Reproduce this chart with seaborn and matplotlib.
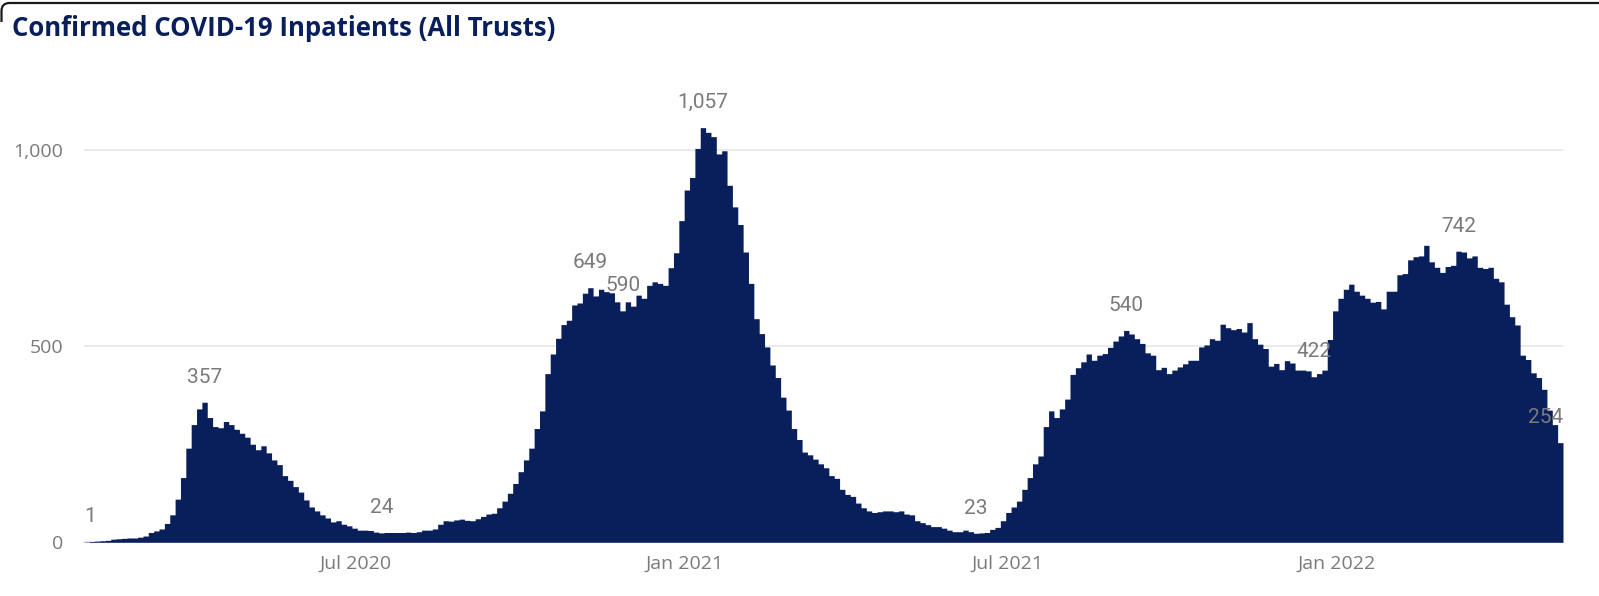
import numpy as np
import pandas as pd
import matplotlib
matplotlib.use("Agg")
import matplotlib.pyplot as plt
import matplotlib.dates as mdates
from matplotlib.patches import PathPatch
from matplotlib.path import Path
import seaborn as sns

# inpatients, one value per 3-day bin (starting 31 Jan 2020)
inpatients = [
    1, 2, 3, 4, 5, 8, 9, 10, 11, 11, 13, 16, 25, 29, 34, 48, 70, 110, 165, 240,
    300, 340, 357, 318, 295, 292, 308, 300, 288, 278, 268, 250, 236, 246, 228, 210, 198, 170, 158, 142,
    128, 108, 90, 80, 70, 62, 52, 55,
    46, 42, 36, 31, 31, 30, 26, 24, 25, 25, 25, 25, 26, 25, 27, 31, 31, 34, 46, 55,
    54, 57, 59, 56, 55, 60, 66, 72, 74, 88, 105, 125, 150, 180, 210, 240, 290, 335, 430, 480,
    520, 555, 566, 605, 610, 635,
    649, 628, 645, 639, 636, 613, 590, 613, 602, 630, 622, 655, 664, 660, 655, 700, 738, 820, 898, 930,
    1004, 1057, 1045, 1034, 990, 998, 910, 855, 810, 740, 660, 570, 532, 498, 452, 420, 370, 337, 290, 262,
    230, 223, 212, 200, 190, 170,
    163, 135, 122, 117, 100, 88, 80, 76, 78, 80, 80, 78, 80, 72, 70, 55, 50, 45, 40, 40,
    36, 31, 27, 27, 31, 27, 23, 24, 25, 33, 38, 55, 76, 90, 105, 135, 165, 200, 220, 295,
    335, 318, 340, 365, 428, 445, 460, 480,
    464, 477, 481, 497, 513, 526, 540, 531, 519, 507, 483, 477, 440, 446, 430, 439, 447, 455, 464, 464,
    498, 503, 519, 515, 556, 547, 542, 545, 536, 560, 519, 505, 494, 449, 456, 440, 463, 457, 439, 439,
    437, 422, 430, 439, 517, 590,
    622, 645, 658, 640, 630, 622, 612, 614, 595, 640, 640, 682, 685, 720, 728, 730, 757, 715, 701, 688,
    703, 706, 742, 740, 725, 730, 701, 698, 701, 673, 664, 607, 575, 554, 477, 466, 432, 420, 390, 337,
    300, 254,
]
dates = pd.date_range("2020-01-31", periods=len(inpatients), freq="3D")
labelled = [0, 22, 55, 94, 100, 115, 166, 194, 229, 256, 275]

tick_dates = ["2020-07-01", "2021-01-01", "2021-07-01", "2022-01-01"]
tick_labels = ["Jul 2020", "Jan 2021", "Jul 2021", "Jan 2022"]
y_ticks = [0, 500, 1000]

navy = "#081F5C"
grey = "#7A7A7A"

df = pd.DataFrame({"date": dates, "patients": inpatients})

sns.set_theme(style="white")
plt.rcParams["font.family"] = ["Open Sans", "DejaVu Sans"]

W, H = 1599, 596
fig = plt.figure(figsize=(W / 100, H / 100), dpi=100)
x0, x1 = 84, 1563
y0, ppu = 542.3, 0.3923
ymax = 1150
ax = fig.add_axes([x0 / W, (H - y0) / H, (x1 - x0) / W, ymax * ppu / H])

edges = mdates.date2num(dates)
edges = np.append(edges, edges[-1] + 3)
sns.histplot(data=df, x="date", weights="patients", bins=list(edges), element="step",
             fill=True, color=navy, alpha=1, linewidth=0, ax=ax, zorder=3)

ax.set_xlim(edges[0], edges[-1])
ax.set_ylim(0, ymax)
ax.set_xlabel("")
ax.set_ylabel("")
ax.set_xticks(mdates.date2num(pd.to_datetime(tick_dates)))
ax.set_xticklabels(tick_labels)
ax.set_yticks(y_ticks)
ax.set_yticklabels([f"{v:,}" for v in y_ticks])
ax.tick_params(axis="both", length=0, labelsize=14, colors=grey)
ax.tick_params(axis="x", pad=9)
ax.tick_params(axis="y", pad=15)
ax.grid(axis="y", color="#E6E6E6", linewidth=1.2, zorder=0)
ax.set_axisbelow(True)
for s in ax.spines.values():
    s.set_visible(False)

# data labels
for i in labelled:
    v = inpatients[i]
    if i == 0:
        x, ha = edges[i], "left"
    elif i == len(inpatients) - 1:
        x, ha = edges[i + 1], "right"
    else:
        x, ha = edges[i] + 1.5, "center"
    ax.annotate(f"{v:,}", (x, v), xytext=(0, 18), textcoords="offset points",
                ha=ha, va="center", fontsize=15, color=grey, family="Roboto", zorder=5)

fig.text(12 / W, 1 - 28 / H, "Confirmed COVID-19 Inpatients (All Trusts)",
         fontsize=18.5, fontweight="bold", color=navy, va="center", ha="left")

# top edge of the card border with its rounded left corner
pts = [(1.5, 22), (1.5, 11), (1.5, 3), (9.5, 3), (W + 2, 3)]
codes = [Path.MOVETO, Path.LINETO, Path.CURVE3, Path.CURVE3, Path.LINETO]
verts = [(px / W, 1 - py / H) for px, py in pts]
fig.patches.append(PathPatch(Path(verts, codes), transform=fig.transFigure,
                             fill=False, edgecolor="#1A1A1A", linewidth=1.6))

fig.savefig("out.png", dpi=100)
